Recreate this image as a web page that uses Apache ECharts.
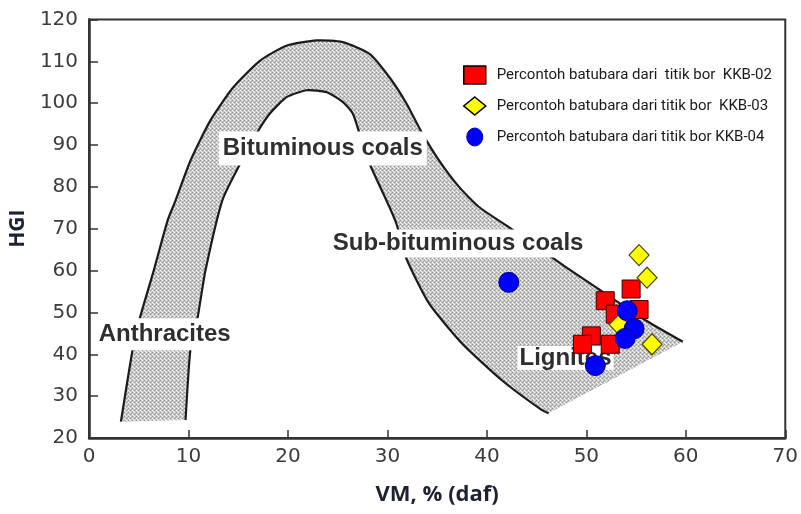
<!DOCTYPE html>
<html><head><meta charset="utf-8">
<script src="https://cdn.jsdelivr.net/npm/echarts@6/dist/echarts.min.js"></script>
<style>html,body{margin:0;padding:0;background:#fff}#c{width:801px;height:514px}</style>
</head><body><div id="c"></div>
<script>
// ---- data ----
const seriesNames = [
  'Percontoh batubara dari  titik bor  KKB-02',
  'Percontoh batubara dari titik bor  KKB-03',
  'Percontoh batubara dari titik bor KKB-04'
];
const kkb02 = [[54.5,55.6],[51.9,52.8],[55.3,50.7],[52.9,49.6],[50.5,44.4],[49.6,42.4],[52.4,42.4]];
const kkb03 = [[55.3,63.7],[56.1,58.3],[53.3,47.1],[56.6,42.4]];
const kkb04 = [[42.2,57.2],[54.1,50.4],[54.8,46.1],[53.9,43.8],[50.9,37.3]];
// coal-rank band boundaries (VM, HGI)
const outerCurve = [[3.2,23.9],[4.4,41.4],[5.1,48.6],[6.5,60.0],[7.9,72.0],[8.7,76.8],[10.2,86.3],[12.2,95.9],[14.5,103.8],[17.2,110.2],[19.9,113.8],[22.9,115.0],[25.5,114.6],[28.2,111.8],[30.2,106.2],[31.9,100.0],[33.5,92.8],[35.2,86.3],[37.2,80.0],[39.2,75.2],[42.2,70.4],[47.9,60.9],[50.9,56.1],[55.9,48.2],[59.7,43.0]];
const innerCurve = [[9.7,24.3],[10.2,41.4],[10.9,48.6],[11.7,60.0],[13.4,76.8],[15.2,85.6],[16.9,93.0],[18.2,97.6],[19.9,101.5],[21.9,103.1],[23.9,102.6],[25.5,100.3],[26.5,97.6],[27.2,92.7],[28.2,85.6],[30.2,75.2],[30.9,71.2],[31.9,62.9],[34.2,52.1],[37.5,42.6],[41.5,33.8],[45.5,26.7],[46.2,25.9]];
const regionLabels = ['Bituminous coals','Sub-bituminous coals','Lignites','Anthracites'];
const regionLabelAt = [[23.5,89.2],[37.1,66.5],[47.9,39.1],[7.6,44.8]];
const xRange = [0,70], yRange = [20,120], tickStep = 10;
const axisNames = ['VM, % (daf)','HGI'];

// ---- styles ----
const labelPad = [[5,4],[2,4],[0,2],[4,3]];
const pc = document.createElement('canvas'); pc.width = 4; pc.height = 4;
const g = pc.getContext('2d');
g.fillStyle = '#c8c8c8'; g.fillRect(0,0,4,4);
g.fillStyle = '#939393'; g.fillRect(0,0,1,1); g.fillRect(2,2,1,1);
g.fillStyle = '#a8a8a8'; g.fillRect(3,1,1,1);
g.fillStyle = '#f4f4f4'; g.fillRect(2,0,1,1); g.fillRect(0,2,1,1); g.fillRect(1,3,1,1);
const pattern = {image: pc, repeat: 'repeat'};

const chart = echarts.init(document.getElementById('c'), null, {renderer:'canvas'});
const tickFont = 'DejaVu Sans';
chart.setOption({
  animation: false,
  grid: {left:88, right:14, top:19.5, bottom:76, show:true, borderColor:'#333', borderWidth:2, containLabel:false},
  legend: {
    orient:'vertical', left:463, top:65, padding:0, itemWidth:22, itemHeight:18, itemGap:11,
    textStyle:{fontFamily:'Roboto', fontSize:15, color:'#1a1a1a', lineHeight:20, padding:[0,0,0,6]},
    data:[
      {name:seriesNames[0], icon:'rect', itemStyle:{color:'#ff0000', borderColor:'#000', borderWidth:1.5}},
      {name:seriesNames[1], icon:'diamond', itemStyle:{color:'#ffff00', borderColor:'#000', borderWidth:1.5}},
      {name:seriesNames[2], icon:'path://M8,0 A8,9 0 1,1 8,18 A8,9 0 1,1 8,0 Z', itemStyle:{color:'#0000ff', borderColor:'#0000aa', borderWidth:1}}
    ]
  },
  xAxis: {
    type:'value', min:xRange[0], max:xRange[1], interval:tickStep,
    axisLine:{lineStyle:{color:'#333', width:2.5}},
    axisTick:{inside:true, length:8, lineStyle:{color:'#333', width:1.5}},
    axisLabel:{fontFamily:tickFont, fontSize:20, color:'#3c3c3c', margin:9},
    splitLine:{show:false},
    name:axisNames[0], nameLocation:'middle', nameGap:46,
    nameTextStyle:{fontFamily:'Open Sans', fontWeight:'bold', fontSize:22, color:'#1c2233'}
  },
  yAxis: {
    type:'value', min:yRange[0], max:yRange[1], interval:tickStep,
    axisLine:{lineStyle:{color:'#333', width:2.5}},
    axisTick:{inside:true, length:9, lineStyle:{color:'#333', width:1.5}},
    axisLabel:{fontFamily:tickFont, fontSize:20, color:'#3c3c3c', margin:11},
    splitLine:{show:false},
    name:axisNames[1], nameLocation:'middle', nameGap:58, nameRotate:90,
    nameTextStyle:{fontFamily:'Open Sans', fontWeight:'bold', fontSize:21, color:'#1c2233'}
  },
  series: [
    {
      type:'custom', z:1, silent:true, data:[0],
      renderItem: function(params, api){
        const outer = outerCurve.map(p => api.coord(p));
        const inner = innerCurve.map(p => api.coord(p));
        const innerRev = inner.slice().reverse();
        // repeat the four corner vertices so the smoothed outline keeps sharp corners
        const ring = [outer[0]].concat(outer, [outer[outer.length-1], innerRev[0]], innerRev, [innerRev[innerRev.length-1]]);
        return {type:'group', children:[
          {type:'polygon', shape:{points: ring, smooth:0.2}, style:{fill: pattern, stroke:null}},
          {type:'polyline', shape:{points: outer, smooth:0.2}, style:{stroke:'#1b1b1b', lineWidth:2.2, fill:null}},
          {type:'polyline', shape:{points: inner, smooth:0.2}, style:{stroke:'#1b1b1b', lineWidth:2.2, fill:null}}
        ]};
      }
    },
    {
      type:'custom', z:2, silent:true, data: regionLabelAt.map((p,i)=>[p[0],p[1],i]),
      renderItem: function(params, api){
        const i = api.value(2);
        const pt = api.coord([api.value(0), api.value(1)]);
        return {type:'text', x:pt[0], y:pt[1], style:{
          text: regionLabels[i], fontFamily:'Liberation Sans, Arial', fontWeight:'bold', fontSize:24,
          fill:'#2e2e2e', align:'center', verticalAlign:'middle', lineHeight:24,
          backgroundColor:'#ffffff', padding: labelPad[i]
        }};
      }
    },
    {name:seriesNames[0], type:'scatter', z:3, data:kkb02, symbol:'rect', symbolSize:[18,18],
     itemStyle:{color:'#ff0000', borderColor:'#3a0000', borderWidth:1, opacity:1}},
    {name:seriesNames[1], type:'scatter', z:3, data:kkb03, symbol:'diamond', symbolSize:[20,21],
     itemStyle:{color:'#ffff00', borderColor:'#4a4a00', borderWidth:1.2, opacity:1}},
    {name:seriesNames[2], type:'scatter', z:3, data:kkb04, symbol:'circle', symbolSize:20,
     itemStyle:{color:'#0000ff', borderColor:'#00008a', borderWidth:1, opacity:1}}
  ]
});
</script></body></html>
